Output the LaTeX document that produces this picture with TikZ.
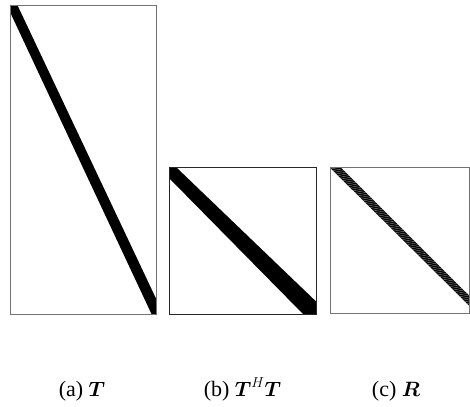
\documentclass[tikz,border=0pt]{standalone}
\usepackage{amsmath}
\usepackage{fontspec}
\setmainfont{Liberation Serif}
\begin{document}
\begin{tikzpicture}[x=1pt,y=-1pt,
  frameg/.style={draw=black!55, line width=0.9pt},
  frameb/.style={draw=black!85, line width=0.9pt},
  band/.style={fill=black},
  captext/.style={anchor=base, font=\fontsize{22}{26}\selectfont, inner sep=0pt}]
\useasboundingbox (0,0) rectangle (470,406);
% panel a
\fill[band] (10,5.3) -- (17.5,5.3) -- (156.7,300) -- (156.7,314) -- (151.5,314) -- (10,12) -- cycle;
\draw[frameg] (10,5.3) rectangle (156.7,314);
% panel b
\fill[band] (169.3,167.7) -- (176.7,167.7) -- (316.3,301.7) -- (316.3,314) -- (303,314) -- (169.3,178.3) -- cycle;
\draw[frameb] (169.3,167.7) rectangle (316.3,314);
% panel c
\begin{scope}
  \clip (330,167.7) -- (341,167.7) -- (469.5,296) -- (469.5,306) -- cycle;
  \fill[band] (330,160) rectangle (470,314);
  \foreach \i in {0,...,75} {
    \draw[white!55!black, line width=0.4pt] (320,160+2*\i) -- (480,160+2*\i+30);
  }
\end{scope}
\draw[frameg] (330,167.7) rectangle (469.5,313.3);
% captions
\node[captext] (ca) at (82,396.5) {(a) $\boldsymbol{T}$};
\node[captext] (cb) at (242.5,396.5) {(b) $\boldsymbol{T}^H\boldsymbol{T}$};
\node[captext] (cc) at (396,396.5) {(c) $\boldsymbol{R}$};
\end{tikzpicture}
\end{document}
